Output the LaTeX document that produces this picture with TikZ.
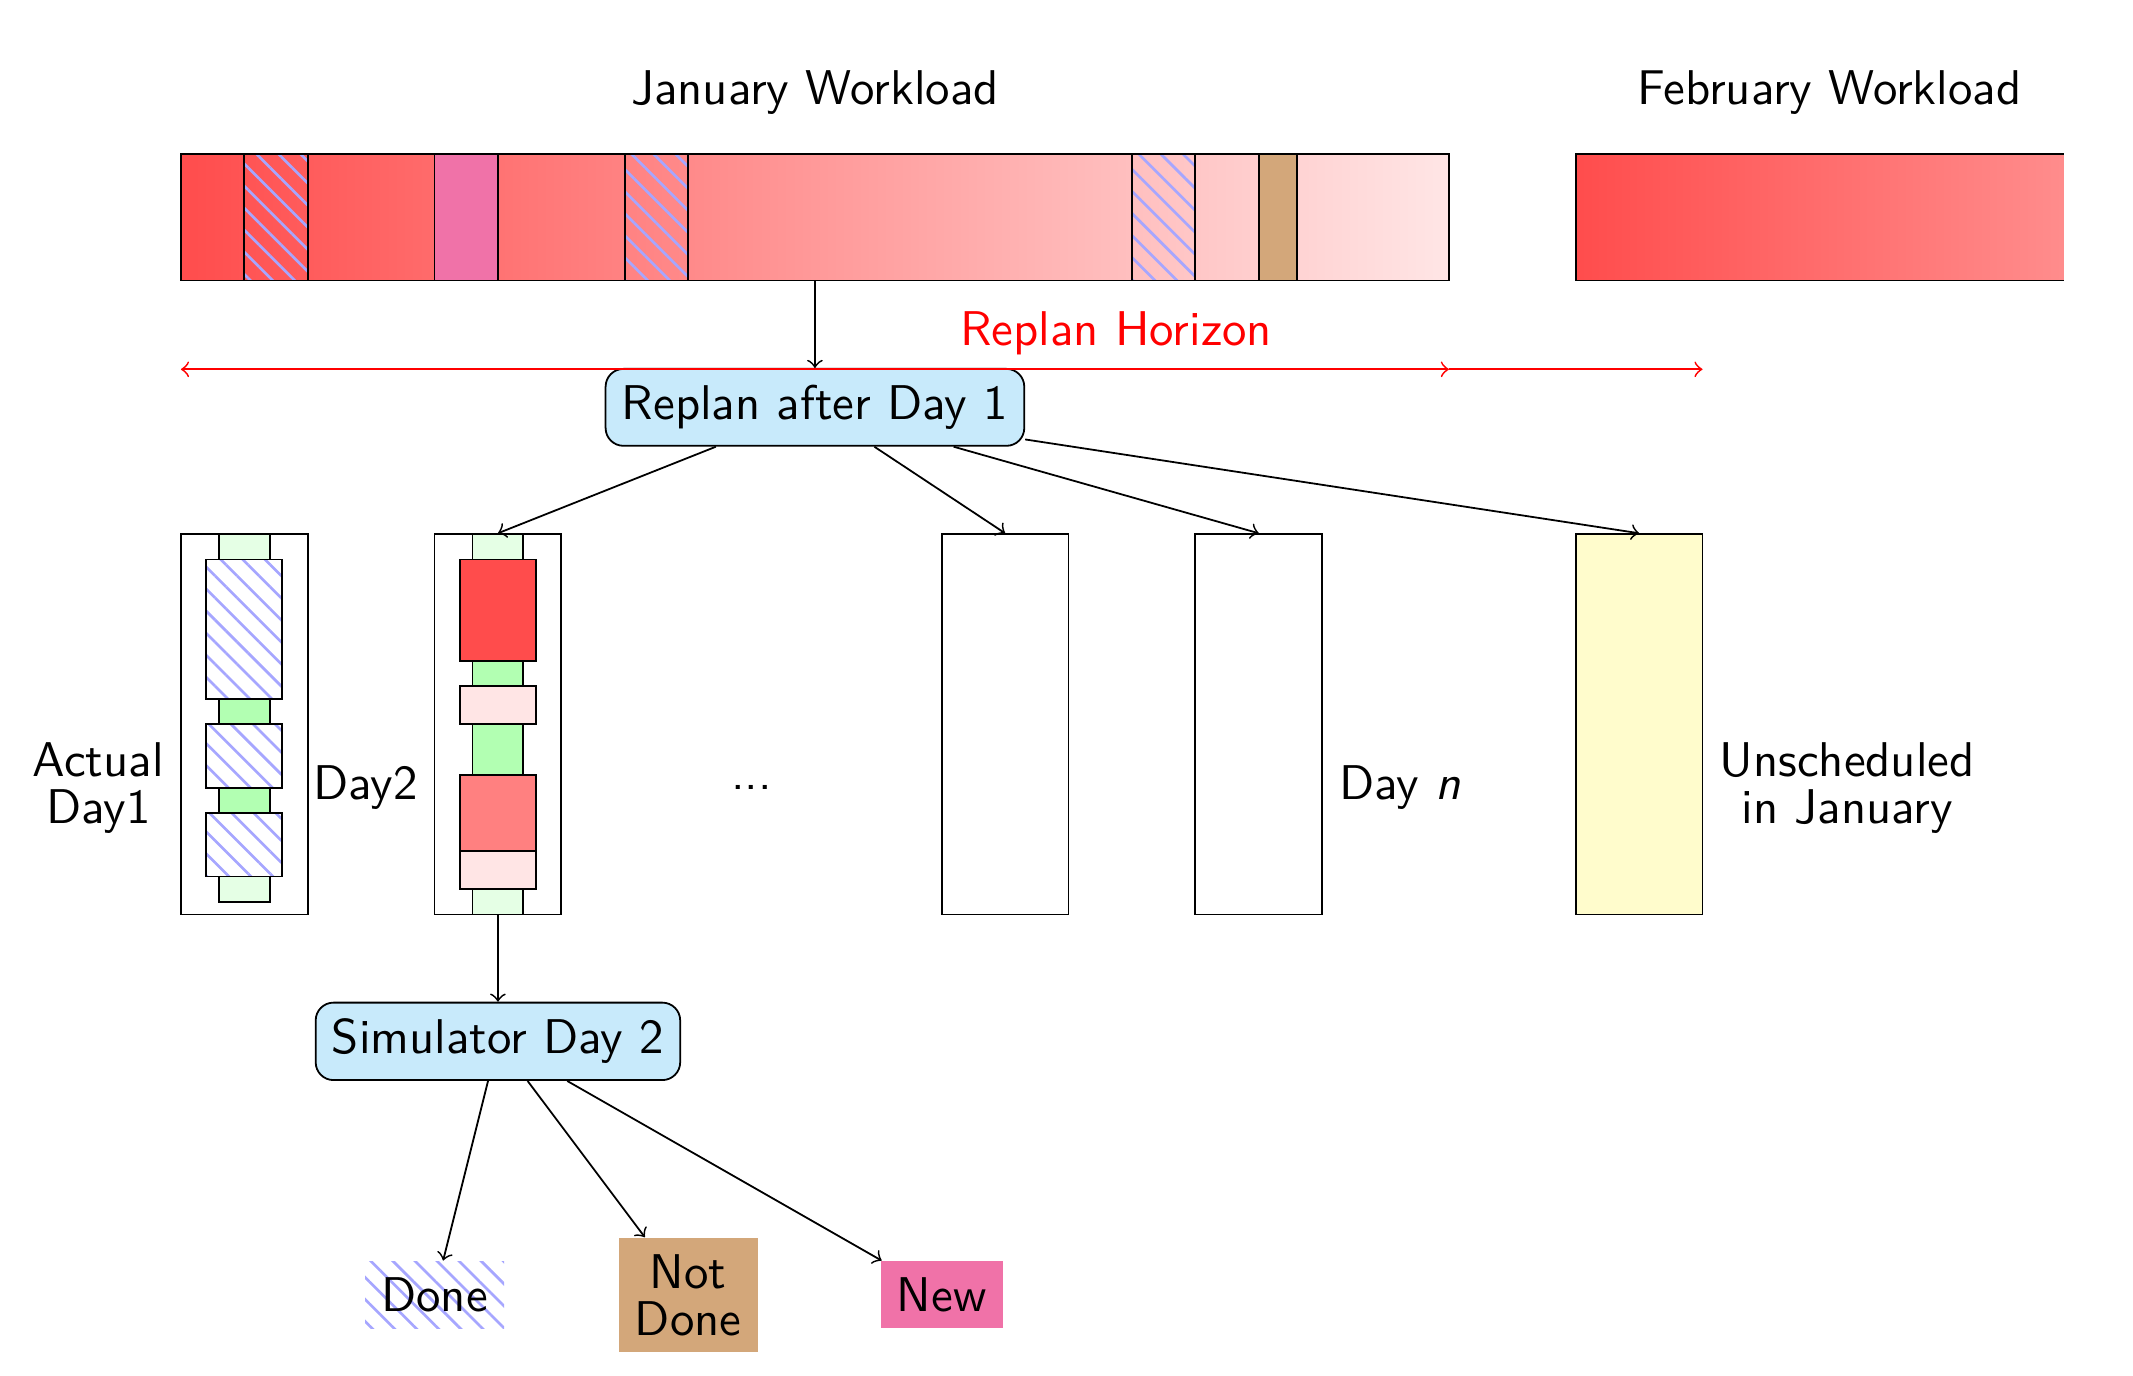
\documentclass[tikz,border=0pt,11pt]{standalone}
\usepackage[svgnames]{xcolor}
\usepackage{tikz}
\renewcommand{\familydefault}{\sfdefault}
\definecolor{nblue}{HTML}{C8EAFB}
\definecolor{npink}{HTML}{F072A8}
\definecolor{ntan}{HTML}{D3A77A}
\usetikzlibrary{patterns,patterns.meta}
\usetikzlibrary{arrows}

\begin{document}
\begin{tikzpicture}[x=0.5cm, y=0.5cm]
    \tikzset{nd/.style={
      draw,
      rounded corners=4pt,
      fill=nblue},
      box/.style={draw, minimum width=1cm, minimum height=3cm, inner sep=0},
      hatch/.style={pattern={Lines[angle=-45, distance=3.5pt, line width=0.6pt]}, pattern color=blue!35},
      tight/.style={align=center, font=\fontsize{10.95}{10.5}\selectfont}}
    \useasboundingbox (-2.854, 2.425) rectangle (30.79, -19.27);

    % workload bars
    \node[minimum width=10cm, minimum height=1cm, inner sep=0, left color=red!70, right color=red!10] at (10, -1) (jan) {};
    \fill[hatch] (1, 0) rectangle (2, -2);
    \fill[npink] (4, 0) rectangle (5, -2);
    \fill[hatch] (7, 0) rectangle (8, -2);
    \fill[hatch] (15, 0) rectangle (16, -2);
    \fill[ntan] (17, 0) rectangle (17.6, -2);
    \draw (0, 0) rectangle (20, -2)
      (1, 0) -- (1, -2) (2, 0) -- (2, -2) (4, 0) -- (4, -2) (5, 0) -- (5, -2)
      (7, 0) -- (7, -2) (8, 0) -- (8, -2) (15, 0) -- (15, -2) (16, 0) -- (16, -2)
      (17, 0) -- (17, -2) (17.6, 0) -- (17.6, -2);
    \shade[left color=red!70, right color=red!45] (22, 0) rectangle (29.7, -2);
    \draw (29.7, 0) -- (22, 0) -- (22, -2) -- (29.7, -2);
    \node at (10, 0.97) (jl) {January Workload};
    \node at (26, 0.97) (fl) {February Workload};

    \node[nd] at (10, -4) (rp) {Replan after Day 1};
    \coordinate (h0) at (0, -3.4);
    \coordinate (h1) at (20, -3.4);
    \coordinate (h2) at (24, -3.4);
    \draw[red, <->] (h0) -- (h1);
    \draw[red, ->] (h1) -- (h2);
    \node[red] at (14.75, -2.83) (hz) {Replan Horizon};

    % day 1
    \draw[fill=green!10] (0.6, -6) rectangle (1.4, -6.4);
    \draw[hatch] (0.4, -6.4) rectangle (1.6, -8.6);
    \draw[fill=green!30] (0.6, -8.6) rectangle (1.4, -9);
    \draw[hatch] (0.4, -9) rectangle (1.6, -10);
    \draw[fill=green!30] (0.6, -10) rectangle (1.4, -10.4);
    \draw[hatch] (0.4, -10.4) rectangle (1.6, -11.4);
    \draw[fill=green!10] (0.6, -11.4) rectangle (1.4, -11.8);
    % day 2
    \draw[fill=green!10] (4.6, -6) rectangle (5.4, -6.4);
    \draw[fill=red!70] (4.4, -6.4) rectangle (5.6, -8);
    \draw[fill=green!30] (4.6, -8) rectangle (5.4, -8.4);
    \draw[fill=red!10] (4.4, -8.4) rectangle (5.6, -9);
    \draw[fill=green!30] (4.6, -9) rectangle (5.4, -9.8);
    \draw[fill=red!50] (4.4, -9.8) rectangle (5.6, -11);
    \draw[fill=red!10] (4.4, -11) rectangle (5.6, -11.6);
    \draw[fill=green!10] (4.6, -11.6) rectangle (5.4, -12);

    \node[box] at (1, -9) (d1) {};
    \node[box] at (5, -9) (d2) {};
    \node[box] at (13, -9) (d3) {};
    \node[box] at (17, -9) (d4) {};
    \node[box, fill=yellow!20] at (23, -9) (un) {};

    \node[left, tight] at (0, -10) (l1) {Actual\\Day1};
    \node[left] at (4, -10) (l2) {Day2};
    \node at (9, -10) (l3) {...};
    \node[right] at (18, -10) (l4) {Day \textit{n}};
    \node[right, tight] at (24, -10) (l5) {Unscheduled\\in January};

    \node[nd] at (5, -14) (sim) {Simulator Day 2};
    \node[hatch] at (4, -18) (done) {Done};
    \node[fill=ntan, tight] at (8, -18) (nd) {Not\\Done};
    \node[fill=npink] at (12, -18) (new) {New};

    \draw[->] (jan) -- (rp);
    \draw[->] (rp) -- (d2.north);
    \draw[->] (rp) -- (d3.north);
    \draw[->] (rp) -- (d4.north);
    \draw[->] (rp) -- (un.north);
    \draw[->] (d2) -- (sim);
    \draw[->] (sim) -- (done);
    \draw[->] (sim) -- (nd);
    \draw[->] (sim) -- (new);
\end{tikzpicture}
\end{document}
